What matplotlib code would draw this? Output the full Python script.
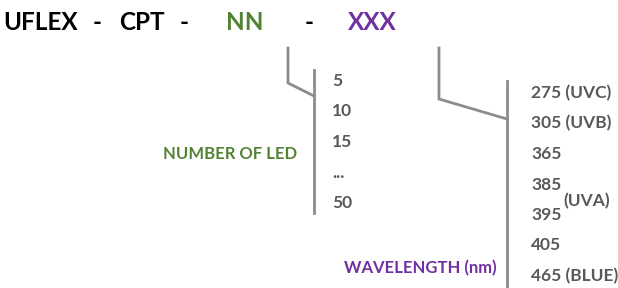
import matplotlib.pyplot as plt

# === Data ===
code_parts = ["UFLEX", "-", "CPT", "-", "NN", "-", "XXX"]
code_colors = ["black", "black", "black", "black", "#548235", "black", "#7030A0"]
nn_options = ["5", "10", "15", "...", "50"]
wl_options = ["275 (UVC)", "305 (UVB)", "365", "385", "395", "405", "465 (BLUE)"]
nn_label = "NUMBER OF LED"
wl_label = "WAVELENGTH (nm)"
uva_label = "(UVA)"

plt.rcParams['font.family'] = ['Lato', 'DejaVu Sans']

fig = plt.figure(figsize=(6.18, 2.88), dpi=100)
ax = fig.add_axes([0, 0, 1, 1])
ax.set_xlim(0, 618)
ax.set_ylim(288, 0)
ax.axis('off')

line_color = "#8c8c8c"
text_gray = "#595959"

# header code (centers of each part)
part_x = [41, 97, 142, 184, 245, 309, 372]
for txt, col, x in zip(code_parts, code_colors, part_x):
    ax.text(x, 22, txt, color=col, fontsize=17.5, fontweight='bold',
            ha='center', va='center')

# NN bracket
ax.plot([288, 288, 314], [48, 83, 96], color=line_color, lw=2, solid_joinstyle='miter')
ax.plot([314, 314], [70, 213], color=line_color, lw=2)
for i, t in enumerate(nn_options):
    ax.text(332, 81 + i * 30.5, t, color=text_gray, fontsize=12.5,
            fontweight='bold', ha='left', va='center')
ax.text(297, 154, nn_label, color="#548235", fontsize=12, fontweight='bold',
        ha='right', va='center')

# XXX bracket
ax.plot([439, 439, 507], [48, 99, 119], color=line_color, lw=2, solid_joinstyle='miter')
ax.plot([507, 507], [81, 288], color=line_color, lw=2)
for i, t in enumerate(wl_options):
    ax.text(531, 93 + i * 30.5, t, color=text_gray, fontsize=12.5,
            fontweight='bold', ha='left', va='center')
ax.text(563, 201, uva_label, color=text_gray, fontsize=12.5, fontweight='bold',
        ha='left', va='center')
ax.text(497, 268, wl_label, color="#7030A0", fontsize=12, fontweight='bold',
        ha='right', va='center')

plt.savefig("out.png", dpi=100)
